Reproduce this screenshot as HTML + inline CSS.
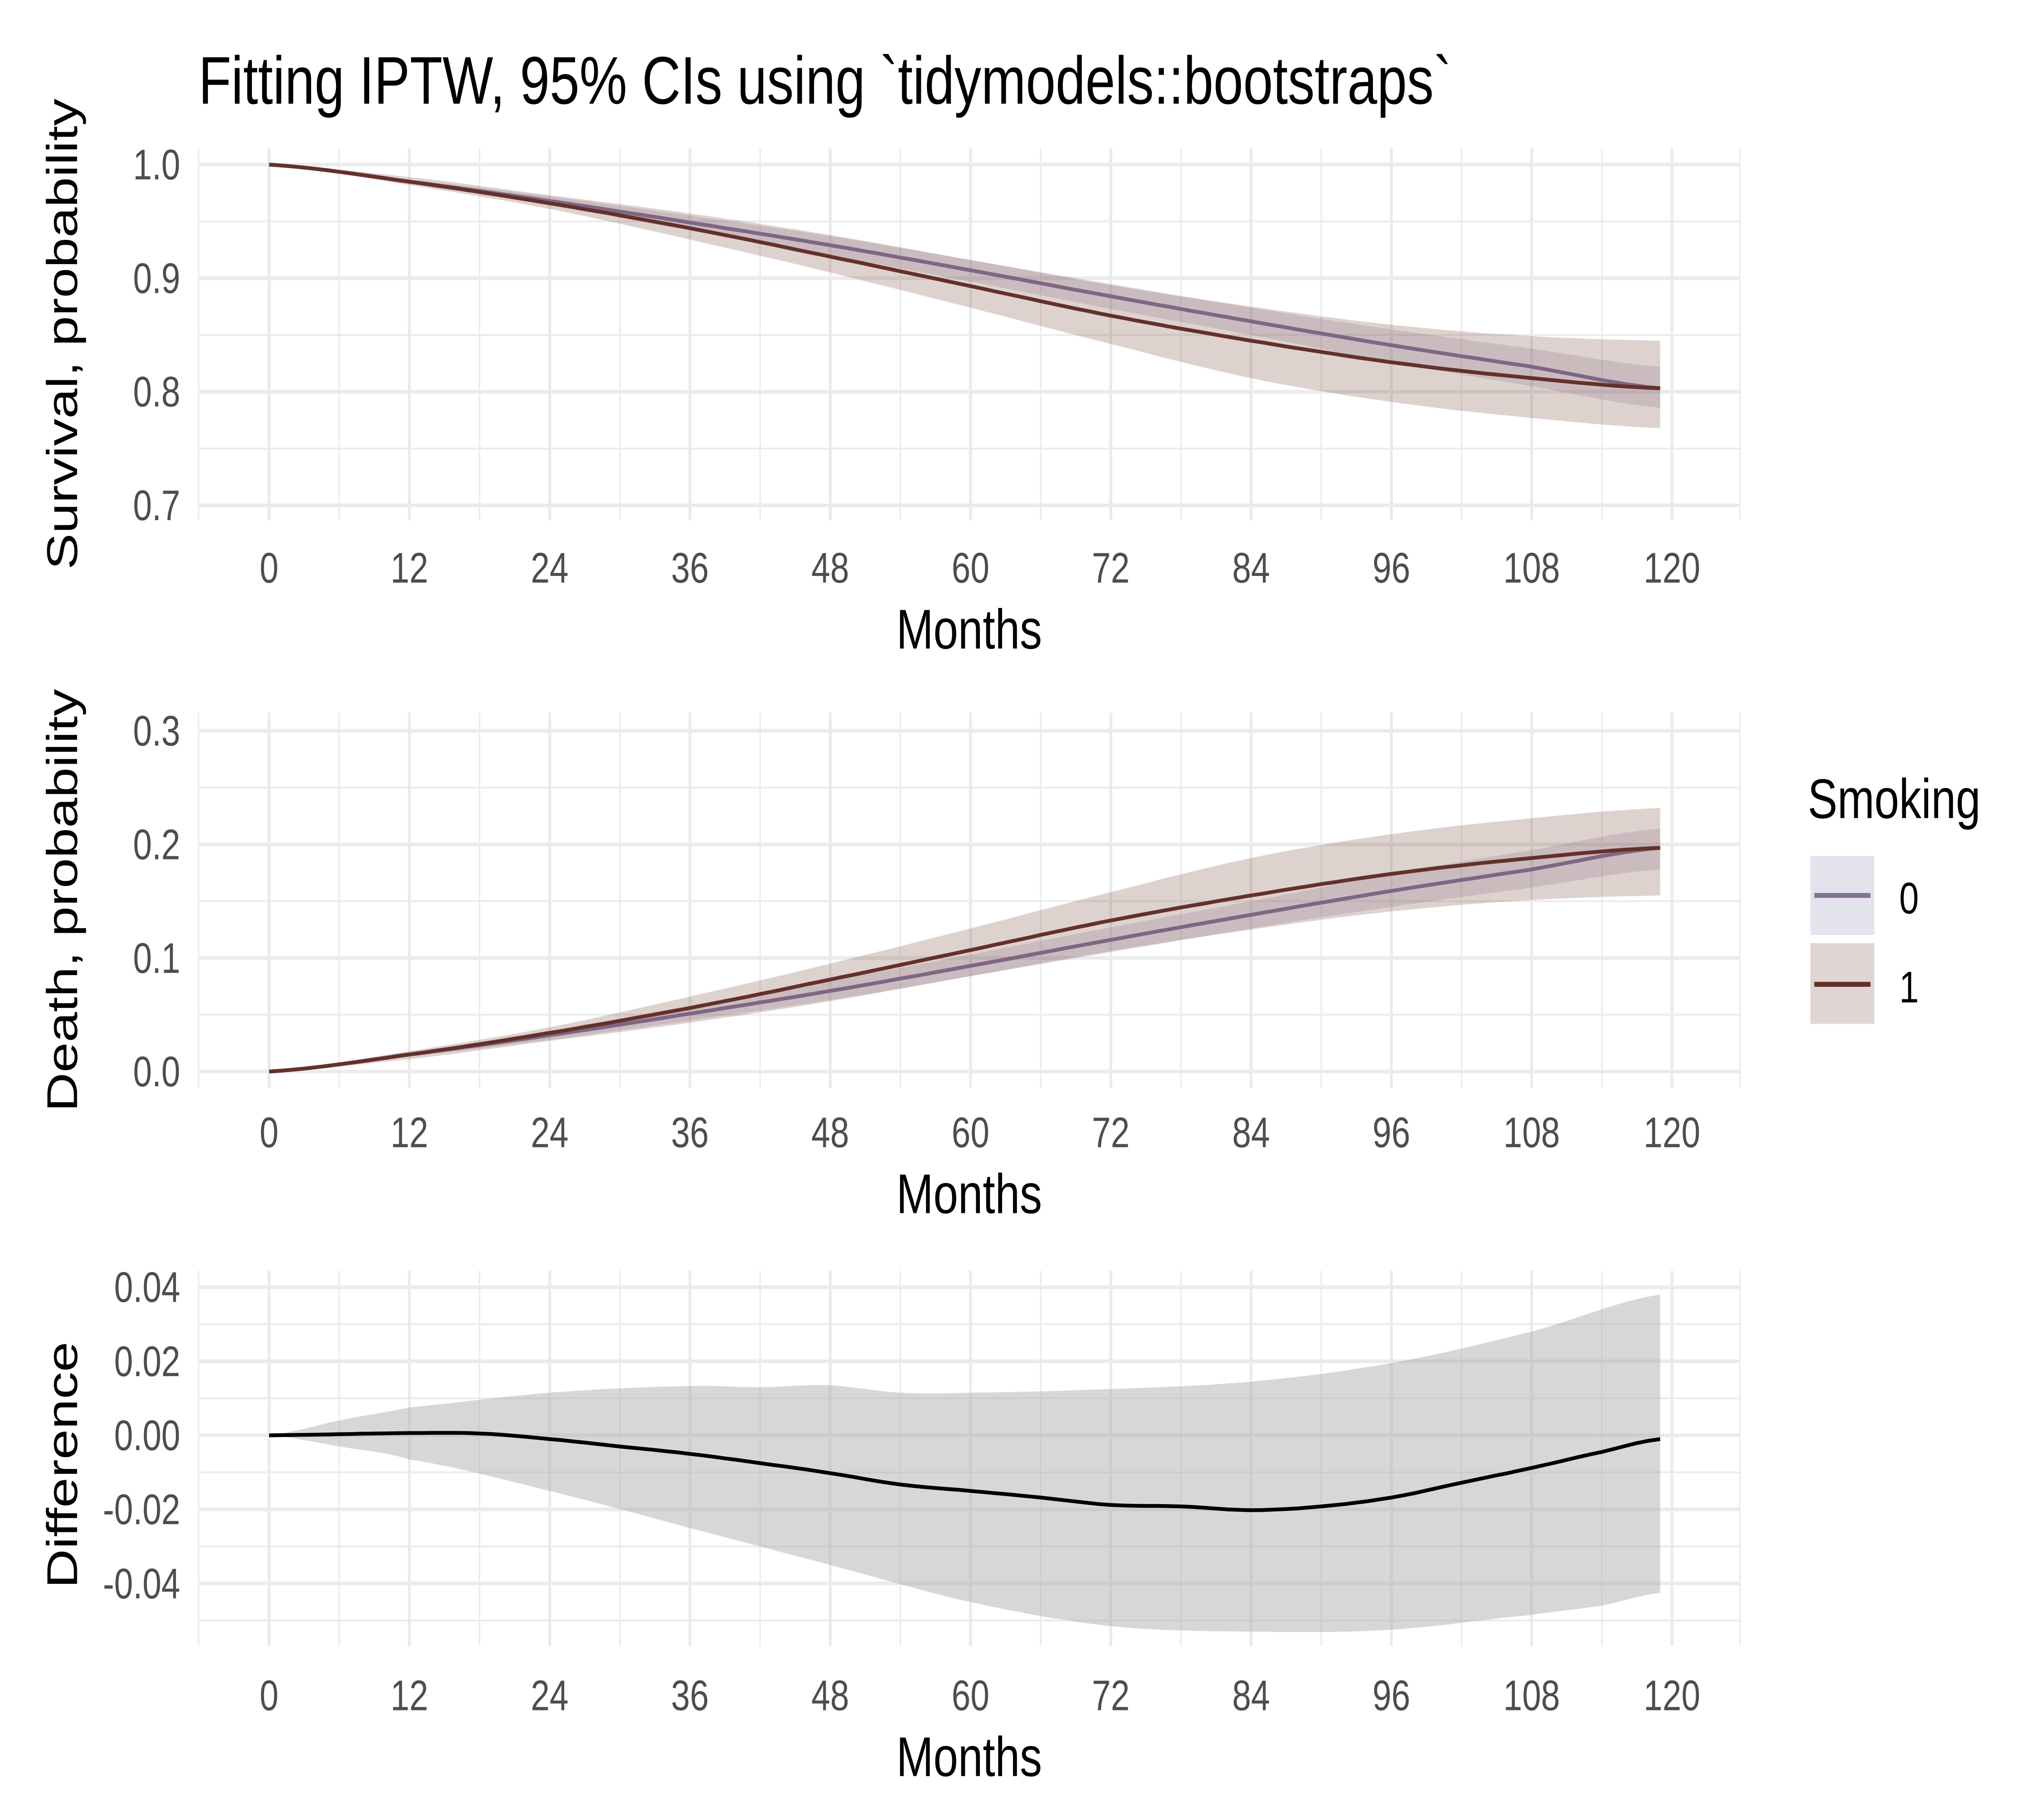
<!DOCTYPE html>
<html><head><meta charset="utf-8">
<style>
html,body{margin:0;padding:0;background:#fff;width:100%;height:100%;overflow:hidden;}
svg{display:block;position:fixed;left:0;top:0;width:100vw;height:100vh;}
text{font-family:"Liberation Sans",Arial,sans-serif;}
</style></head>
<body>
<svg id="s" xmlns="http://www.w3.org/2000/svg" viewBox="0 0 1548 1105.7" preserveAspectRatio="none">
<rect width="1548" height="1106" fill="#fff"/>
<text x="152" y="63" font-size="41" fill="#000">Fitting IPTW, 95% CIs using `tidymodels::bootstraps`</text>
<g id="g"></g>
<text x="1384" y="497" font-size="34" fill="#000">Smoking</text>
<rect x="1386" y="520" width="49" height="48" fill="#e4e2ea"/>
<line x1="1389" y1="544" x2="1432" y2="544" stroke="#857191" stroke-width="3"/>
<text x="1454" y="555" font-size="27" fill="#000">0</text>
<rect x="1386" y="573" width="49" height="49" fill="#dfd5d3"/>
<line x1="1389" y1="598" x2="1432" y2="598" stroke="#632f26" stroke-width="3"/>
<text x="1454" y="609" font-size="27" fill="#000">1</text>
</svg>
<script>
const NS="http://www.w3.org/2000/svg";
const G=document.getElementById('g');
function el(t,a,txt){const e=document.createElementNS(NS,t);for(const k in a)e.setAttribute(k,a[k]);if(txt!==undefined)e.textContent=txt;G.appendChild(e);return e;}
const X=m=>206+m*1074/120;
function interp(pts,m){for(let i=0;i<pts.length-1;i++){const[a,b]=[pts[i],pts[i+1]];if(m>=a[0]&&m<=b[0]){const t=(m-a[0])/(b[0]-a[0]);
const p0=pts[Math.max(0,i-1)],p3=pts[Math.min(pts.length-1,i+2)];
const y0=p0[1],y1=a[1],y2=b[1],y3=p3[1];const t2=t*t,t3=t2*t;
return 0.5*((2*y1)+(-y0+y2)*t+(2*y0-5*y1+4*y2-y3)*t2+(-y0+3*y1-3*y2+y3)*t3);}}return pts[pts.length-1][1];}
function samp(pts){const r=[];for(let m=0;m<=119;m+=1)r.push([m,interp(pts,m)]);return r;}
function panel(p){
 for(const v of p.minorY)el('line',{x1:152,x2:1332,y1:p.Y(v),y2:p.Y(v),stroke:'#ebebeb','stroke-width':1.1});
 for(let m=6;m<=126;m+=12){if(X(m)<=1333)el('line',{x1:X(m),x2:X(m),y1:p.top,y2:p.bot,stroke:'#ebebeb','stroke-width':1.1});}
 el('line',{x1:152,x2:152,y1:p.top,y2:p.bot,stroke:'#ebebeb','stroke-width':1.1});
 el('line',{x1:1332,x2:1332,y1:p.top,y2:p.bot,stroke:'#ebebeb','stroke-width':1.1});
 for(const v of p.majorY)el('line',{x1:152,x2:1332,y1:p.Y(v[0]),y2:p.Y(v[0]),stroke:'#ebebeb','stroke-width':2.2});
 for(let m=0;m<=120;m+=12)el('line',{x1:X(m),x2:X(m),y1:p.top,y2:p.bot,stroke:'#ebebeb','stroke-width':2.2});
 for(const s of p.series){
  if(s.lo){const lo=samp(s.lo),hi=samp(s.hi);
   let d='M'+lo.map(q=>X(q[0]).toFixed(1)+','+p.Y(q[1]).toFixed(1)).join('L')+'L'+hi.reverse().map(q=>X(q[0]).toFixed(1)+','+p.Y(q[1]).toFixed(1)).join('L')+'Z';
   el('path',{d:d,fill:s.fill,'fill-opacity':s.op});}
 }
 for(const s of p.series){const l=samp(s.line);
  el('path',{d:'M'+l.map(q=>X(q[0]).toFixed(1)+','+p.Y(q[1]).toFixed(1)).join('L'),fill:'none',stroke:s.col,'stroke-width':2.3});}
 for(const v of p.majorY)el('text',{x:138,y:p.Y(v[0])+9,'font-size':26,fill:'#4d4d4d','text-anchor':'end'},v[1]);
 for(let m=0;m<=120;m+=12)el('text',{x:X(m),y:p.tickY,'font-size':26,fill:'#4d4d4d','text-anchor':'middle'},String(m));
 el('text',{x:742,y:p.tickY+40,'font-size':34,fill:'#000','text-anchor':'middle'},'Months');
 el('text',{x:0,y:0,'font-size':33,fill:'#000','text-anchor':'middle',transform:`translate(59,${p.labY}) rotate(-90)`},p.lab);
}
const s0=[[0,1],[12,.985],[24,.968],[36,.949],[48,.929],[60,.907],[72,.884],[84,.862],[96,.841],[108,.822],[119,.803]];
const s1=[[0,1],[12,.985],[24,.966],[36,.944],[48,.919],[60,.893],[72,.867],[84,.845],[96,.826],[108,.812],[119,.803]];
const s1lo=[[0,1],[12,.982],[24,.961],[36,.934],[48,.905],[60,.874],[72,.842],[84,.812],[96,.791],[108,.777],[119,.768]];
const s1hi=[[0,1],[12,.989],[24,.973],[36,.957],[48,.938],[60,.916],[72,.894],[84,.875],[96,.859],[108,.849],[119,.845]];
const s0lo=[[0,1],[12,.983],[24,.964],[36,.942],[48,.92],[60,.897],[72,.873],[84,.85],[96,.826],[108,.805],[119,.786]];
const s0hi=[[0,1],[12,.987],[24,.972],[36,.955],[48,.937],[60,.916],[72,.895],[84,.874],[96,.855],[108,.838],[119,.822]];
const inv=a=>a.map(q=>[q[0],1-q[1]]);
const Y1=v=>100+(1-v)*690;
panel({Y:Y1,top:90,bot:316,tickY:354,labY:203,lab:'Survival, probability',
 minorY:[.95,.85,.75],majorY:[[1,'1.0'],[.9,'0.9'],[.8,'0.8'],[.7,'0.7']],
 series:[{lo:s0lo,hi:s0hi,line:s0,fill:'#8e83a3',op:.25,col:'#7d6784'},{lo:s1lo,hi:s1hi,line:s1,fill:'#7b4a3e',op:.25,col:'#65302a'}]});
const Y2=v=>651-v*690;
panel({Y:Y2,top:433,bot:661,tickY:697,labY:547,lab:'Death, probability',
 minorY:[.05,.15,.25],majorY:[[.3,'0.3'],[.2,'0.2'],[.1,'0.1'],[0,'0.0']],
 series:[{lo:inv(s0hi),hi:inv(s0lo),line:inv(s0),fill:'#8e83a3',op:.25,col:'#7d6784'},{lo:inv(s1hi),hi:inv(s1lo),line:inv(s1),fill:'#7b4a3e',op:.25,col:'#65302a'}]});
const Y3=v=>872-v*2250;
panel({Y:Y3,top:772,bot:1000,tickY:1039,labY:890,lab:'Difference',
 minorY:[.03,.01,-.01,-.03,-.05],majorY:[[.04,'0.04'],[.02,'0.02'],[0,'0.00'],[-.02,'-0.02'],[-.04,'-0.04']],
 series:[{lo:[[0,0],[6,-.003],[12,-.0065],[24,-.015],[36,-.025],[48,-.035],[60,-.045],[72,-.0515],[84,-.053],[96,-.0525],[108,-.0485],[114,-.046],[119,-.0425]],
   hi:[[0,0],[6,.004],[12,.0075],[24,.0115],[36,.0133],[42,.013],[48,.0135],[54,.0115],[60,.0115],[72,.0125],[84,.0145],[96,.0195],[108,.028],[119,.038]],
   line:[[0,0],[12,.0006],[18,.0005],[24,-.001],[30,-.003],[36,-.005],[42,-.0075],[48,-.0102],[54,-.0133],[60,-.015],[66,-.0168],[72,-.0188],[78,-.0192],[84,-.0202],[90,-.0192],[96,-.0168],[102,-.0128],[108,-.0088],[114,-.0045],[119,-.001]],
   fill:'#a6a6a6',op:.45,col:'#000'}]});
</script>
</body></html>
